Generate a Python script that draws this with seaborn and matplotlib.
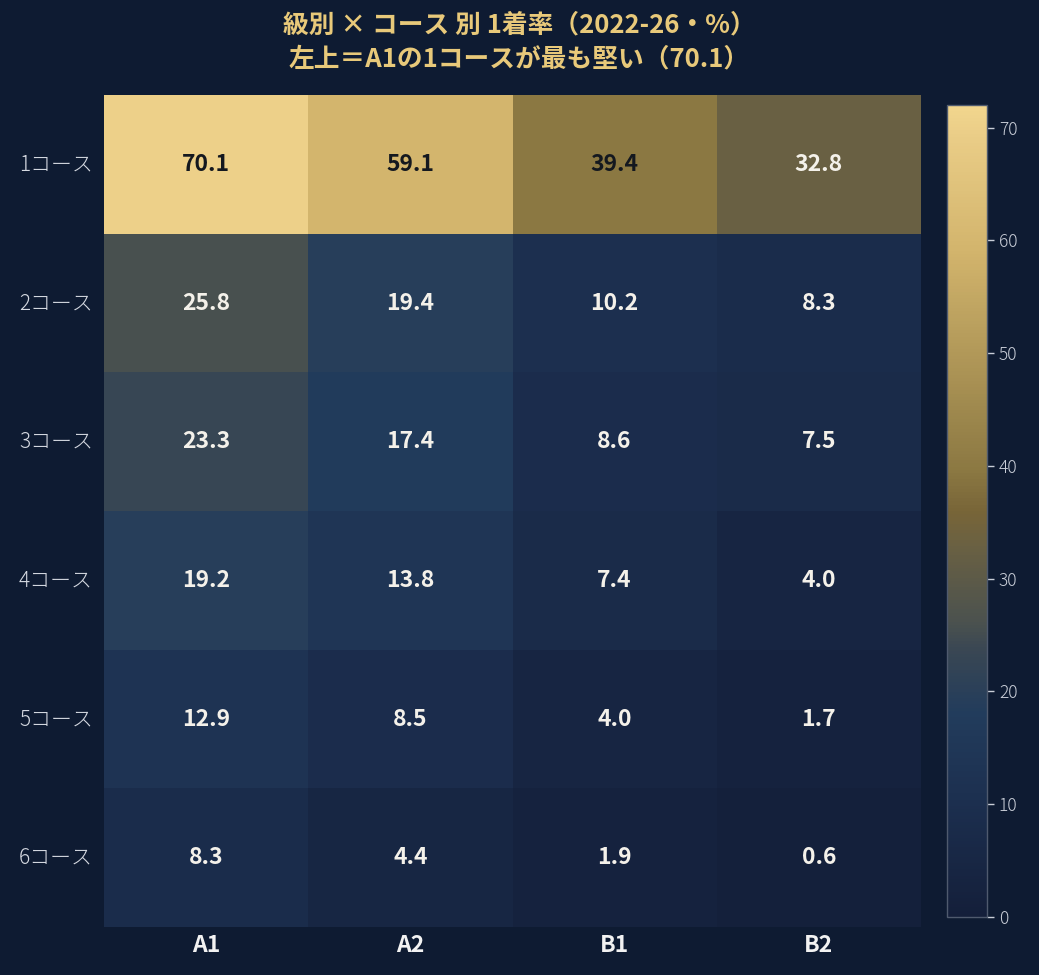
import numpy as np
import pandas as pd
import matplotlib
matplotlib.use('Agg')
import matplotlib.pyplot as plt
import seaborn as sns
from matplotlib.colors import LinearSegmentedColormap

# data
classes = ['A1', 'A2', 'B1', 'B2']
courses = ['1コース', '2コース', '3コース', '4コース', '5コース', '6コース']
a1 = [70.1, 25.8, 23.3, 19.2, 12.9, 8.3]
a2 = [59.1, 19.4, 17.4, 13.8, 8.5, 4.4]
b1 = [39.4, 10.2, 8.6, 7.4, 4.0, 1.9]
b2 = [32.8, 8.3, 7.5, 4.0, 1.7, 0.6]

df = pd.DataFrame({'A1': a1, 'A2': a2, 'B1': b1, 'B2': b2}, index=courses)

bg = '#0e1b32'
gold = '#e8c97a'
vmax = 72

cmap = LinearSegmentedColormap.from_list('navy_gold', [
    (0.00, '#141f3a'),
    (0.14, '#1c2f4f'),
    (0.25, '#223c5c'),
    (0.33, '#3a4753'),
    (0.36, '#4a514f'),
    (0.46, '#6b6142'),
    (0.50, '#786538'),
    (0.55, '#8b7842'),
    (0.82, '#d2b46c'),
    (0.97, '#ebce88'),
    (1.00, '#f2d68e'),
])

sns.set_style('white')
plt.rcParams['font.family'] = ['Noto Sans CJK JP', 'DejaVu Sans']

fig = plt.figure(figsize=(10.39, 9.75), dpi=100, facecolor=bg)
ax = fig.add_axes([104 / 1039, 1 - 927 / 975, 817 / 1039, 832 / 975])
cax = fig.add_axes([947 / 1039, 1 - 917 / 975, 40 / 1039, 812 / 975])
ax.set_facecolor(bg)

sns.heatmap(df, ax=ax, cbar_ax=cax, cmap=cmap, vmin=0, vmax=vmax,
            annot=False, linewidths=0)

# annotations, dark text on the bright cells
for i, row in enumerate(courses):
    for j, col in enumerate(classes):
        v = df.loc[row, col]
        color = '#14181f' if v > vmax / 2 else '#f4f1ea'
        ax.text(j + 0.5, i + 0.5, f'{v:.1f}', ha='center', va='center',
                fontsize=16.5, fontweight='bold', color=color)

ax.set_xlabel('')
ax.set_ylabel('')
ax.tick_params(axis='x', length=0, pad=5, labelsize=16.5, labelcolor='#f2f2f2')
ax.tick_params(axis='y', length=0, pad=8, labelsize=15, labelcolor='#d6dae2')
for t in ax.get_xticklabels():
    t.set_fontweight('bold')
for t in ax.get_yticklabels():
    t.set_fontweight('light')
plt.setp(ax.get_yticklabels(), rotation=0)

cax.tick_params(colors='#c9ced8', labelsize=12.5, length=5, width=1)
cax.set_yticks(range(0, 71, 10))
for t in cax.get_yticklabels():
    t.set_fontweight('light')
cb = ax.collections[0].colorbar
cb.outline.set_edgecolor('#4f5a6e')
cb.outline.set_linewidth(1)

fig.suptitle('級別 × コース 別 1着率（2022-26・%）\n左上＝A1の1コースが最も堅い（70.1）',
             color=gold, fontsize=18.5, fontweight='bold', y=0.988,
             linespacing=1.3)

plt.savefig('out.png', dpi=100, facecolor=bg)
